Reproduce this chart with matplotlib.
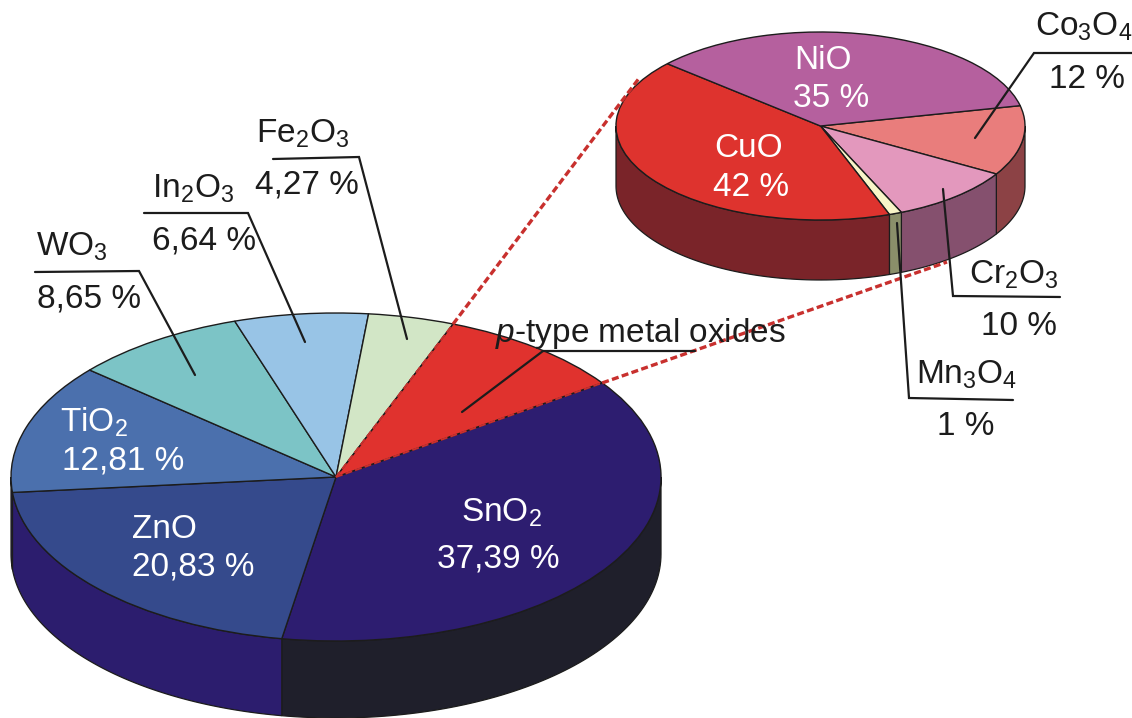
import numpy as np
import matplotlib
matplotlib.use("Agg")
import matplotlib.pyplot as plt
from matplotlib.patches import Wedge, Polygon
from matplotlib.transforms import Affine2D

plt.rcParams["font.family"] = "Liberation Sans"
plt.rcParams["mathtext.fontset"] = "custom"
plt.rcParams["mathtext.rm"] = "Liberation Sans"
plt.rcParams["mathtext.it"] = "Liberation Sans:italic"
plt.rcParams["mathtext.default"] = "rm"

# shares in percent, clockwise from the start angle
main_names = ["SnO_2", "ZnO", "TiO_2", "WO_3", "In_2O_3", "Fe_2O_3", "p-type"]
main_values = [37.39, 20.83, 12.81, 8.65, 6.64, 4.27, 9.41]
main_tops = ["#2d1d70", "#354a8c", "#4b70ad", "#7cc4c6", "#98c4e6", "#d2e6c6", "#e0322e"]
main_sides = ["#1f1f2b", "#2c1d6e", "#2c1d6e", "#2c1d6e", "#2c1d6e", "#2c1d6e", "#2c1d6e"]

sub_names = ["Co_3O_4", "Cr_2O_3", "Mn_3O_4", "CuO", "NiO"]
sub_values = [12, 10, 1, 42, 35]
sub_tops = ["#e97d7c", "#e398bd", "#f8f5c8", "#de332e", "#b5609e"]
sub_sides = ["#8c4245", "#85506e", "#8a8f6a", "#7a2429", "#7a2429"]

INK = "#1c1c1c"
DASH = "#c8302e"


def edges(values, start):
    return start - np.cumsum([0] + list(values)) * 3.6


def rim(cx, cy, rx, ry, ang):
    a = np.radians(ang)
    return cx + rx * np.cos(a), cy - ry * np.sin(a)


def draw_disc(ax, cx, cy, rx, ry, depth, values, start, tops, sides):
    ang = edges(values, start)
    # outer wall, only the front half can be seen
    for i in range(len(values)):
        hi = min(ang[i], 0)
        lo = max(ang[i + 1], -180)
        if hi <= lo:
            continue
        t = np.linspace(hi, lo, 80)
        x, y = rim(cx, cy, rx, ry, t)
        pts = np.r_[np.c_[x, y], np.c_[x[::-1], y[::-1] + depth]]
        ax.add_patch(Polygon(pts, closed=True, fc=sides[i], ec=INK, lw=0.9, zorder=2))
    # top face is a unit wedge squashed onto the ellipse
    squash = Affine2D().scale(rx, -ry).translate(cx, cy) + ax.transData
    for i in range(len(values)):
        ax.add_patch(Wedge((0, 0), 1, ang[i + 1], ang[i], fc=tops[i], ec=INK,
                           lw=1.0, transform=squash, zorder=3))
    return ang


def leader(ax, xs, ys):
    ax.plot(xs, ys, color=INK, lw=1.6, solid_capstyle="round",
            solid_joinstyle="miter", zorder=6)


def label(ax, x, y, s, color=INK):
    ax.text(x, y, s, fontsize=24, color=color, ha="left", va="baseline", zorder=7)


def chem(name):
    return "$\\mathrm{" + name + "}$" if "_" in name else name


def pct(v):
    return f"{v:.2f}".replace(".", ",") + " %"


fig = plt.figure(figsize=(11.32, 7.18), dpi=100)
ax = fig.add_axes([0, 0, 1, 1])
ax.set_xlim(0, 1132)
ax.set_ylim(718, 0)
ax.axis("off")

main_c = (336, 477, 325, 164)
sub_c = (820.5, 126, 204.5, 94)

main_ang = draw_disc(ax, *main_c, 77, main_values, 35, main_tops, main_sides)
sub_ang = draw_disc(ax, *sub_c, 60, sub_values, 12.5, sub_tops, sub_sides)

# dashed guides from the p-type slice to the second disc
for ang, far in [(main_ang[-2], (640, 77)), (main_ang[0], (947, 262))]:
    rim_pt = rim(*main_c, ang)
    ax.plot([main_c[0], rim_pt[0]], [main_c[1], rim_pt[1]], color=DASH, lw=1.4,
            dashes=(3.6, 1.6), zorder=4)
    ax.plot([rim_pt[0], far[0]], [rim_pt[1], far[1]], color=DASH, lw=2.4,
            dashes=(2.1, 1.0), zorder=4)

# leaders
leader(ax, [195, 139, 35], [375, 271, 272])
leader(ax, [305, 248, 144], [342, 213, 213])
leader(ax, [407, 359, 273], [339, 157, 159])
leader(ax, [462, 543, 695], [412, 351, 351])
leader(ax, [975, 1034, 1132], [138, 53, 53])
leader(ax, [943, 953, 1060], [189, 296, 297])
leader(ax, [897, 909, 1013], [223, 398, 400])

WHITE = "white"
label(ax, 461, 522, chem(main_names[0]), WHITE)
label(ax, 437, 568, pct(main_values[0]), WHITE)
label(ax, 132, 538, chem(main_names[1]), WHITE)
label(ax, 132, 576, pct(main_values[1]), WHITE)
label(ax, 60, 432, chem(main_names[2]), WHITE)
label(ax, 62, 469, pct(main_values[2]), WHITE)
label(ax, 36, 256, chem(main_names[3]))
label(ax, 37, 307, pct(main_values[3]))
label(ax, 152, 198, chem(main_names[4]))
label(ax, 152, 249, pct(main_values[4]))
label(ax, 256, 143, chem(main_names[5]))
label(ax, 255, 194, pct(main_values[5]))
label(ax, 495, 342, "$\\mathit{p}$-type metal oxides")

label(ax, 1035, 36, chem(sub_names[0]))
label(ax, 1049, 88, f"{sub_values[0]} %")
label(ax, 969, 284, chem(sub_names[1]))
label(ax, 981, 335, f"{sub_values[1]} %")
label(ax, 916, 384, chem(sub_names[2]))
label(ax, 937, 435, f"{sub_values[2]} %")
label(ax, 714, 157, sub_names[3], WHITE)
label(ax, 713, 196, f"{sub_values[3]} %", WHITE)
label(ax, 794, 69, sub_names[4], WHITE)
label(ax, 793, 107, f"{sub_values[4]} %", WHITE)

fig.savefig("out.png", dpi=100)
